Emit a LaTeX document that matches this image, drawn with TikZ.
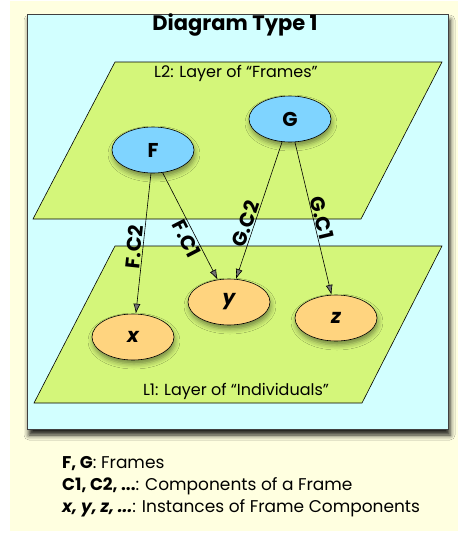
\documentclass[tikz,border=0pt]{standalone}
\usepackage{fontspec}
\setmainfont{Poppins}
\usetikzlibrary{shadows.blur,arrows.meta,shapes.geometric}
\definecolor{cream}{HTML}{FFFFE0}
\definecolor{boxcyan}{HTML}{D2FFFF}
\definecolor{layergreen}{HTML}{D4F67A}
\definecolor{frameblue}{HTML}{7FD4FF}
\definecolor{indorange}{HTML}{FFD47F}
\tikzset{
  layer/.style={fill=layergreen, draw=black, line width=0.6pt},
  blob/.style={ellipse, draw=black, line width=0.6pt, minimum width=82pt, minimum height=46pt, inner sep=0pt,
    blur shadow={shadow xshift=1pt, shadow yshift=-4pt, shadow blur radius=5pt, shadow opacity=45}},
  framenode/.style={blob, fill=frameblue, font=\bfseries\fontsize{20}{20}\selectfont},
  indnode/.style={blob, fill=indorange, font=\bfseries\itshape\fontsize{20}{20}\selectfont},
  arr/.style={-{Latex[length=10pt,width=7pt]}, line width=0.6pt},
  lbl/.style={font=\bfseries\fontsize{20}{20}\selectfont, sloped, inner sep=1pt},
  layerlbl/.style={font=\fontsize{16}{16}\selectfont, anchor=base},
  legend/.style={font=\fontsize{17}{17}\selectfont, anchor=base west, inner sep=0pt}
}
\begin{document}
\begin{tikzpicture}[x=1pt,y=-1pt]
\useasboundingbox (0,0) rectangle (458,533);
\fill[cream] (10,1) rectangle (458,531);
\draw[fill=boxcyan, draw=black!75, line width=0.8pt,
  blur shadow={shadow xshift=2pt, shadow yshift=-6pt, shadow blur radius=5pt, shadow opacity=90}]
  (27,14) rectangle (448,429);
\node[font=\bfseries\fontsize{21}{21}\selectfont, anchor=base] (title) at (235,30) {Diagram Type 1};
% layers
\draw[layer] (115,62) -- (442,62) -- (361,219) -- (33,219) -- cycle;
\node[layerlbl] (l2) at (236,77) {L2: Layer of “Frames”};
\draw[layer] (115,246) -- (442,246) -- (362,403) -- (34,403) -- cycle;
\node[layerlbl] (l1) at (236,395) {L1: Layer of “Individuals”};
% nodes
\node[framenode] (F) at (153,150) {F};
\node[framenode] (G) at (290,119) {G};
\node[indnode] (x) at (133,337) {x};
\node[indnode] (y) at (229,302) {y};
\node[indnode] (z) at (336,318) {z};
% connectors
\draw[arr] (F.265) -- (x.83) node[lbl, above, pos=0.53] {F.C2};
\draw[arr] (F.293) -- (y.117) node[lbl, below, pos=0.58] {F.C1};
\draw[arr] (G.251) -- (y.73) node[lbl, above, pos=0.62] {G.C2};
\draw[arr] (G.282) -- (z.101) node[lbl, above, pos=0.51] {G.C1};
% legend
\node[legend] (leg1) at (62,468) {\textbf{F, G}: Frames};
\node[legend] (leg2) at (62,490) {\textbf{C1, C2, ...}: Components of a Frame};
\node[legend] (leg3) at (62,512) {\textbf{\itshape x, y, z, ...}: Instances of Frame Components};
\end{tikzpicture}
\end{document}
